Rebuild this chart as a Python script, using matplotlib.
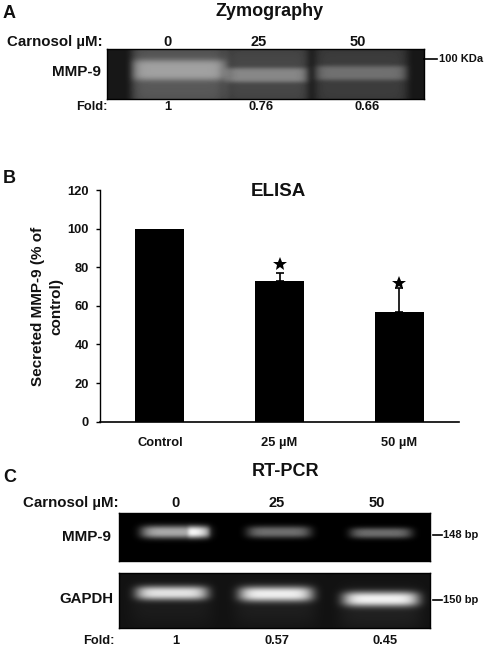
import numpy as np
import matplotlib
matplotlib.use("Agg")
import matplotlib.pyplot as plt

plt.rcParams['font.family'] = ['Liberation Sans', 'DejaVu Sans']
plt.rcParams['font.weight'] = 'bold'

W, H = 487, 650

# ELISA data
categories = ['Control', '25 µM', '50 µM']
elisa_values = [100, 72.8, 56.8]
error_positions = [1, 2]
error_bases = [72.8, 56.8]
error_sizes = [4.4, 12.2]
star_values = [81.8, 72.0]
star_positions = [1, 2]
y_ticks = [0, 20, 40, 60, 80, 100, 120]

# Gel annotations
doses = ['0', '25', '50']
fold_zymo = ['1', '0.76', '0.66']
fold_pcr = ['1', '0.57', '0.45']

# Band tables for the gel pictures: centre x, half width, centre y, half height, peak
zymo_lanes = [(179, 48, 75, 42, 0.26), (267, 42, 75, 42, 0.19), (361, 47, 75, 42, 0.15)]
zymo_bands = [(179, 47, 70, 10.5, 0.28), (267, 41, 75, 7.5, 0.25), (361, 46, 73, 7.5, 0.20)]
mmp_bands = [(175, 34, 532, 6.5, 0.66), (279, 32, 532, 6.0, 0.43), (381, 31, 533, 5.5, 0.42)]
mmp_hot = [(199, 11, 532, 6.0, 0.32)]
gapdh_bands = [(172, 36, 593, 7.0, 0.78), (276, 37, 594, 7.5, 0.82), (381, 38, 599, 7.5, 0.82)]
gapdh_glow = [(172, 42, 605, 22, 0.04), (276, 42, 605, 22, 0.05), (381, 42, 610, 22, 0.06)]


def px_axes(fig, x0, y0, x1, y1):
    return fig.add_axes([x0 / W, 1 - y1 / H, (x1 - x0) / W, (y1 - y0) / H])


def soft(u, p=4):
    return np.exp(-np.abs(u) ** p)


def gel(fig, box, base, bands, blur_p=4, edge_p=6):
    x0, y0, x1, y1 = box
    ax = px_axes(fig, x0, y0, x1, y1)
    xs = np.arange(x0, x1) + 0.5
    ys = np.arange(y0, y1) + 0.5
    X, Y = np.meshgrid(xs, ys)
    img = np.full(X.shape, base, dtype=float)
    for cx, hw, cy, hh, peak in bands:
        img += peak * soft((X - cx) / hw, edge_p) * soft((Y - cy) / hh, blur_p)
    ax.imshow(np.clip(img, 0, 1), cmap='gray', vmin=0, vmax=1, aspect='auto',
              extent=(x0, x1, y1, y0), interpolation='bilinear')
    ax.set_xticks([])
    ax.set_yticks([])
    for s in ax.spines.values():
        s.set_linewidth(1.0)
        s.set_color('black')
    return ax


def label(fig, x, y, s, size, ha='center', **kw):
    fig.text(x / W, 1 - y / H, s, fontsize=size, ha=ha, va='center',
             color='#111111', fontweight='bold', **kw)


def tick_line(fig, x0, x1, y):
    fig.add_artist(plt.Line2D([x0 / W, x1 / W], [1 - y / H, 1 - y / H],
                              color='black', lw=1.2))


fig = plt.figure(figsize=(W / 100, H / 100), dpi=100, facecolor='white')

# Panel A
gel(fig, (107, 49, 424, 99), 0.09, zymo_lanes + zymo_bands, blur_p=4, edge_p=12)
label(fig, 3, 13, 'A', 13, ha='left')
label(fig, 270, 12, 'Zymography', 13)
label(fig, 103, 42, 'Carnosol µM:', 10.8, ha='right')
for x, t in zip([168, 259, 358], doses):
    label(fig, x, 42, t, 10.5)
label(fig, 101, 72, 'MMP-9', 11, ha='right')
label(fig, 108, 107, 'Fold:', 9.3, ha='right')
for x, t in zip([168, 261, 367], fold_zymo):
    label(fig, x, 107, t, 9.3)
tick_line(fig, 424, 437, 59)
label(fig, 439, 58.5, '100 KDa', 8, ha='left')

# Panel B
ax = px_axes(fig, 100, 190, 459, 421.7)
ax.bar(range(3), elisa_values, width=0.41, color='black', zorder=3)
ax.errorbar(error_positions, error_bases, yerr=[[0, 0], error_sizes], fmt='none',
            ecolor='black', elinewidth=1.2, capsize=3, capthick=1.2, zorder=2)
ax.plot(star_positions, star_values, '*', color='black', ms=10, mew=0, clip_on=False, zorder=4)
ax.set_xlim(-0.5, 2.5)
ax.set_ylim(0, 120)
ax.set_yticks(y_ticks)
ax.set_xticks(range(3))
ax.set_xticklabels(categories, fontsize=9.3, fontweight='bold', color='#111111')
ax.tick_params(axis='x', length=0, pad=11)
ax.tick_params(axis='y', direction='out', length=3, width=1.0, labelsize=9.3, pad=5,
               labelcolor='#111111')
for s in ('top', 'right'):
    ax.spines[s].set_visible(False)
ax.spines['left'].set_linewidth(1.0)
ax.spines['bottom'].set_linewidth(1.2)
label(fig, 278, 191, 'ELISA', 13.5)
label(fig, 3, 179, 'B', 13, ha='left')
fig.text(47 / W, 1 - 306 / H, 'Secreted MMP-9 (% of\ncontrol)', rotation=90, fontsize=11,
         ha='center', va='center', ma='center', color='#111111', fontweight='bold',
         linespacing=1.35)

# Panel C
gel(fig, (119, 513, 430, 561), 0.0, mmp_bands + mmp_hot, blur_p=2.5)
gel(fig, (119, 573, 430, 628), 0.07, gapdh_bands + gapdh_glow, blur_p=2.5)
label(fig, 3, 477, 'C', 13, ha='left')
label(fig, 286, 472, 'RT-PCR', 13)
label(fig, 119, 503, 'Carnosol µM:', 10.8, ha='right')
for x, t in zip([176, 277, 377], doses):
    label(fig, x, 503, t, 10.5)
label(fig, 111, 537, 'MMP-9', 11, ha='right')
label(fig, 113, 599, 'GAPDH', 10.8, ha='right')
label(fig, 115, 641, 'Fold:', 9.3, ha='right')
for x, t in zip([176, 277, 385], fold_pcr):
    label(fig, x, 641, t, 9.3)
tick_line(fig, 433, 442, 535)
label(fig, 443, 534.5, '148 bp', 8, ha='left')
tick_line(fig, 433, 442, 600)
label(fig, 443, 600, '150 bp', 8, ha='left')

fig.savefig('out.png', dpi=100, facecolor='white')
